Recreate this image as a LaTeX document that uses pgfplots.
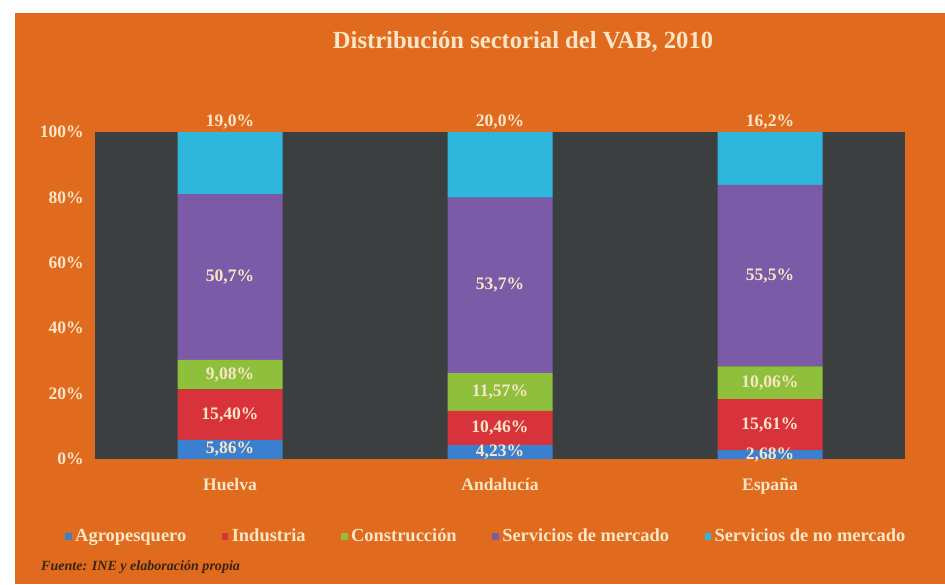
\documentclass[border=0pt]{standalone}
\usepackage{pgfplots}
\usepackage{pgfplotstable}
\pgfplotsset{compat=1.18}
\usepackage{fontspec}
\setmainfont{Liberation Serif}

\definecolor{bgorange}{HTML}{E06B1F}
\definecolor{plotbg}{HTML}{3C3F3F}
\definecolor{cagro}{HTML}{3B7FD0}
\definecolor{cind}{HTML}{D8323A}
\definecolor{ccons}{HTML}{8FC03C}
\definecolor{cmerc}{HTML}{7B5AA8}
\definecolor{cnomerc}{HTML}{2FB6DC}
\definecolor{cream}{HTML}{F8E6C6}
\definecolor{fuente}{HTML}{3A2412}

% share of VAB (%) by sector
\pgfplotstableread{
x agro ind cons merc nomerc
0 5.86 15.40 9.08 50.7 19.0
1 4.23 10.46 11.57 53.7 20.0
2 2.68 15.61 10.06 55.5 16.2
}\vab

% label positions (segment middles, top labels above the bars)
\pgfplotstableread{
x y lab
0 2.93 5,86
0 13.56 15,40
0 25.8 9,08
0 55.7 50,7
0 103.1 19,0
1 2.12 4,23
1 9.47 10,46
1 20.48 11,57
1 53.1 53,7
1 103.1 20,0
2 1.34 2,68
2 10.49 15,61
2 23.33 10,06
2 56.1 55,5
2 103.1 16,2
}\labs

\pgfplotsset{
  frame/.style={
    at={(1.9cm,2.5cm)}, anchor=south west,
    scale only axis,
    width=16.2cm, height=6.54cm,
    xmin=-0.5, xmax=2.5,
    ymin=0, ymax=100,
  }
}

\begin{document}
\begin{tikzpicture}
% page background, 1px = 0.02cm
\fill[white] (0,0) rectangle (18.9,11.68);
\fill[bgorange] (0.3,0) rectangle (18.9,11.42);

\node[text=cream,font=\bfseries\fontsize{14}{16}\selectfont] at (10.46,10.84)
  {Distribución sectorial del VAB, 2010};

\begin{axis}[
  frame,
  ybar stacked,
  bar width=2.1cm,
  axis background/.style={fill=plotbg},
  axis line style={opacity=0},
  major tick length=0pt,
  xtick=data,
  xticklabels={Huelva,Andalucía,España},
  ytick={0,20,40,60,80,100},
  yticklabels={0\%,20\%,40\%,60\%,80\%,100\%},
  tick label style={text=cream,font=\bfseries\fontsize{10}{12}\selectfont},
  xticklabel style={yshift=-0.26cm},
  yticklabel style={xshift=-0.1cm},
  legend columns=5,
  legend style={at={(0.484,-0.238)}, anchor=center,
    draw=none, fill=none, text=cream,
    font=\bfseries\fontsize{10.5}{12}\selectfont,
    text height=1.6ex, text depth=0.4ex,
    /tikz/every even column/.append style={column sep=0.64cm}},
  legend image code/.code={\fill[#1] (0cm,-0.06cm) rectangle (0.13cm,0.08cm);},
]
\addplot[fill=cagro,draw=none] table[x=x,y=agro] {\vab};
\addplot[fill=cind,draw=none] table[x=x,y=ind] {\vab};
\addplot[fill=ccons,draw=none] table[x=x,y=cons] {\vab};
\addplot[fill=cmerc,draw=none] table[x=x,y=merc] {\vab};
\addplot[fill=cnomerc,draw=none] table[x=x,y=nomerc] {\vab};
\legend{Agropesquero,Industria,Construcción,Servicios de mercado,Servicios de no mercado}
\end{axis}

% value labels, same geometry, not stacked
\begin{axis}[frame, hide axis, clip=false]
\addplot[only marks, mark=none, point meta=explicit symbolic,
  nodes near coords={\pgfplotspointmeta\%},
  nodes near coords align={center},
  every node near coord/.style={text=cream,font=\bfseries\fontsize{10}{12}\selectfont}]
  table[x=x,y=y,meta=lab] {\labs};
\end{axis}

\node[anchor=west,text=fuente,font=\bfseries\itshape\fontsize{8}{10}\selectfont]
  at (0.7,0.34) {Fuente: INE y elaboración propia};
\end{tikzpicture}
\end{document}
